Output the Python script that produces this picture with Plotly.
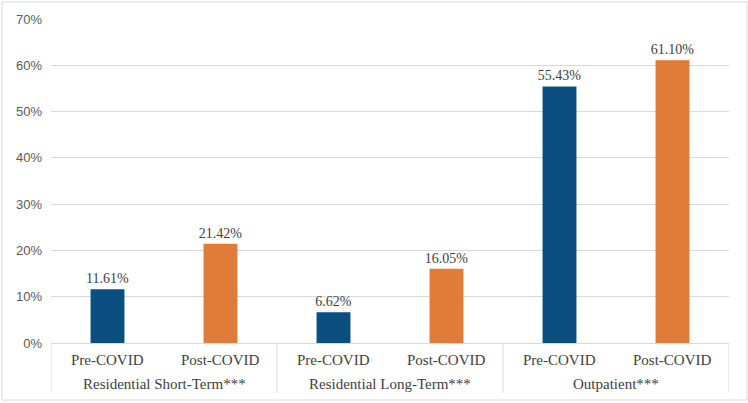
import plotly.graph_objects as go

groups = ["Residential Short-Term***", "Residential Short-Term***",
          "Residential Long-Term***", "Residential Long-Term***",
          "Outpatient***", "Outpatient***"]
periods = ["Pre-COVID", "Post-COVID"] * 3
values = [0.1161, 0.2142, 0.0662, 0.1605, 0.5543, 0.6110]
colors = ["#0B4F80", "#E07B39"] * 3

SERIF = "Liberation Serif, Times New Roman, serif"
GRID = "#D9D9D9"

fig = go.Figure(go.Bar(
    x=[groups, periods], y=values,
    marker=dict(color=colors, line=dict(width=0)),
    width=0.3,
    texttemplate="%{y:.2%}", textposition="outside",
    constraintext="none",
    textfont=dict(family=SERIF, size=14, color="#404040"),
    cliponaxis=False,
))

annotations = []
shapes = []
# inner (period) labels at each leaf category index
for i, p in enumerate(periods):
    annotations.append(dict(x=i, y=-0.0525, xref="x", yref="paper", text=p,
                            showarrow=False, yanchor="middle",
                            font=dict(family=SERIF, size=15, color="#404040")))
# outer (group) labels and dividers
unique_groups = []
for g in groups:
    if g not in unique_groups:
        unique_groups.append(g)
for g in unique_groups:
    idx = [i for i, gg in enumerate(groups) if gg == g]
    center = (idx[0] + idx[-1]) / 2
    annotations.append(dict(x=center, y=-0.127, xref="x", yref="paper", text=g,
                            showarrow=False, yanchor="middle",
                            font=dict(family=SERIF, size=15, color="#404040")))
    shapes.append(dict(type="line", xref="x", yref="paper",
                       x0=idx[0] - 0.5, x1=idx[0] - 0.5, y0=0, y1=-0.154,
                       line=dict(color=GRID, width=1)))
shapes.append(dict(type="line", xref="x", yref="paper",
                   x0=len(groups) - 0.5, x1=len(groups) - 0.5, y0=0, y1=-0.154,
                   line=dict(color=GRID, width=1)))
# outer chart border
shapes.append(dict(type="rect", xref="paper", yref="paper",
                   x0=-0.0724, x1=1.0266, y0=-0.176, y1=1.0525,
                   line=dict(color=GRID, width=1)))

fig.update_layout(
    width=748, height=403,
    margin=dict(l=51, r=19, t=19, b=60),
    paper_bgcolor="white", plot_bgcolor="white",
    showlegend=False,
    font=dict(family=SERIF, size=15, color="#404040"),
    xaxis=dict(
        type="multicategory",
        showline=True, linecolor=GRID, linewidth=1,
        showdividers=False, showticklabels=False,
        ticks="", range=[-0.5, 5.5],
    ),
    yaxis=dict(
        range=[0, 0.7], dtick=0.1, tickformat=".0%",
        showgrid=True, gridcolor=GRID, gridwidth=1,
        zeroline=False,
        tickfont=dict(family="Liberation Sans", size=13, color="#595959"),
        ticks="", ticklen=0, ticklabelstandoff=8,
    ),
    annotations=annotations,
    shapes=shapes,
)

fig.write_html("out.html")
